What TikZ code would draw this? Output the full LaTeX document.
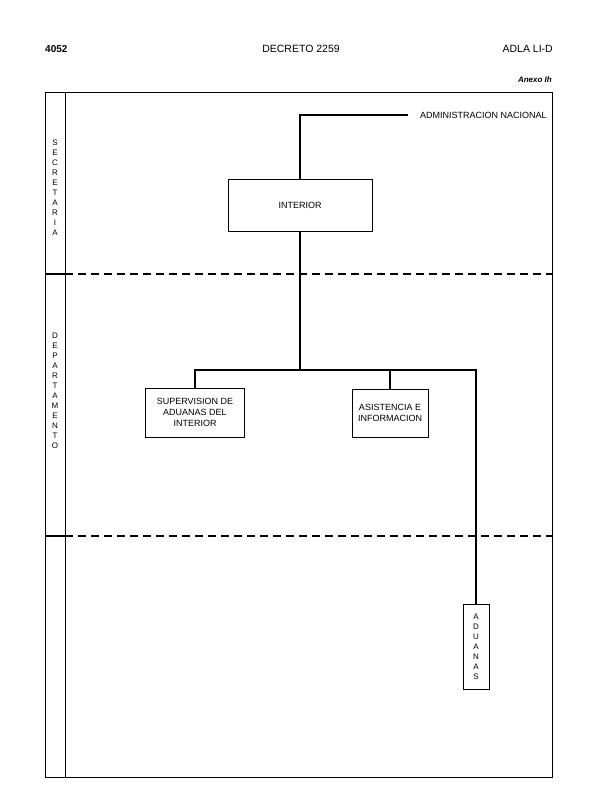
\documentclass[tikz,border=0pt]{standalone}
\usepackage{fontspec}
\setmainfont{Liberation Sans}
\usepackage{tikz}
\usetikzlibrary{calc}

\begin{document}
\begin{tikzpicture}[
    x=1pt, y=-1pt,
    unit/.style={rectangle, draw, line width=0.8pt, align=center, font=\fontsize{9}{11}\selectfont},
    vlabel/.style={align=center, inner sep=0pt, font=\fontsize{8}{10}\selectfont},
    head/.style={inner sep=0pt, font=\fontsize{10.5}{12}\selectfont},
    link/.style={line width=1.8pt},
    level/.style={line width=1.2pt, dash pattern=on 8pt off 5pt},
]
    \useasboundingbox (0,0) rectangle (596,810);

    % Page header
    \node[head, anchor=west, font=\fontsize{10}{12}\selectfont\bfseries] (page) at (45,49) {4052};
    \node[head] (decreto) at (301,49) {DECRETO 2259};
    \node[head, anchor=east] (adla) at (553,49) {ADLA LI-D};
    \node[head, anchor=east, font=\fontsize{8}{10}\selectfont\bfseries\itshape] (anexo) at (552,80) {Anexo Ih};

    % Frame and level bands
    \draw[line width=0.8pt] (45,92) rectangle (552,777);
    \draw[line width=0.8pt] (65,92) -- (65,777);
    \draw[line width=1.2pt] (45,274) -- (65,274);
    \draw[level] (65,274) -- (552,274);
    \draw[line width=1.2pt] (45,536) -- (65,536);
    \draw[level] (65,536) -- (552,536);

    % Level labels
    \node[vlabel] (secretaria) at (55,188) {S\\E\\C\\R\\E\\T\\A\\R\\I\\A};
    \node[vlabel] (departamento) at (55,391) {D\\E\\P\\A\\R\\T\\A\\M\\E\\N\\T\\O};

    % Row 1: top
    \node[anchor=west, inner xsep=12pt, inner ysep=0pt, font=\fontsize{9}{11}\selectfont] (admin) at (408,115) {ADMINISTRACION NACIONAL};

    % Row 2: Secretaria
    \node[unit, minimum width=144pt, minimum height=52pt] (interior) at (300,205) {INTERIOR};

    % Row 3: Departamentos
    \coordinate (bus) at (300,370);
    \node[unit, minimum width=99pt, minimum height=49pt] (supervision) at (195,412.5) {SUPERVISION DE\\ADUANAS DEL\\INTERIOR};
    \node[unit, minimum width=76pt, minimum height=48pt] (asistencia) at (390,413) {ASISTENCIA E\\INFORMACION};

    % Row 4: lower level
    \node[unit, vlabel, inner sep=0pt, minimum width=26pt, minimum height=85pt] (aduanas) at (476,646.5) {A\\D\\U\\A\\N\\A\\S};

    % Connectors
    \draw[link] (admin.west) -| (interior.north);
    \draw[link] (interior.south) -- (bus);
    \draw[link] (supervision.north) |- (bus) -| (aduanas.north);
    \draw[link] (asistencia.north) -- (asistencia.north |- bus);
\end{tikzpicture}
\end{document}
